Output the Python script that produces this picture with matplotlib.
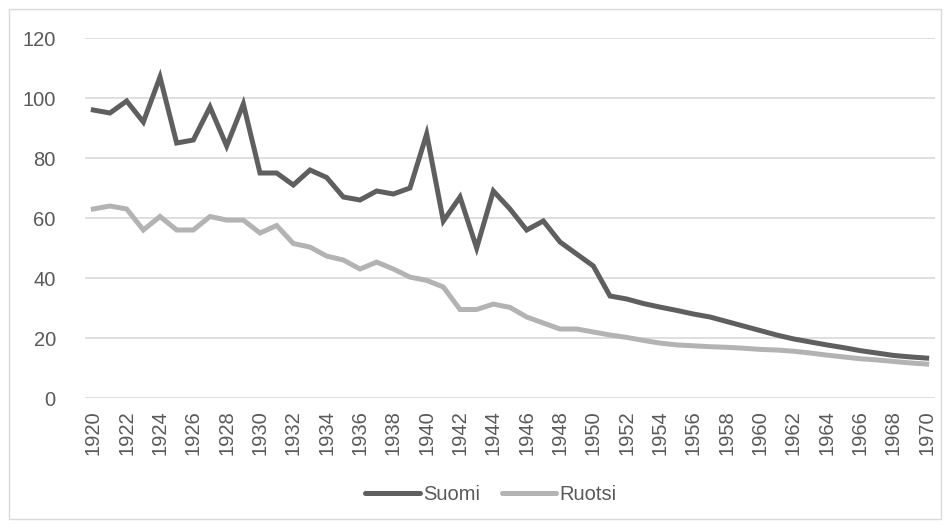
import matplotlib
matplotlib.use('Agg')
import matplotlib.pyplot as plt
from matplotlib.patches import Rectangle

years = list(range(1920, 1971))

suomi = [96, 95, 99, 92, 107, 85, 86, 97, 84, 98,
         75, 75, 71, 76, 73.5, 67, 66, 69, 68, 70,
         88, 59, 67, 50, 69, 63, 56, 59, 52, 48,
         44, 34, 33, 31.5, 30.3, 29.2, 28, 27, 25.5, 24,
         22.5, 21, 19.7, 18.7, 17.7, 16.8, 15.8, 15, 14.2, 13.7,
         13.3]

ruotsi = [63, 64, 63, 56, 60.5, 56, 56, 60.5, 59.3, 59.3,
          55, 57.5, 51.5, 50.3, 47.3, 46, 43, 45.3, 43, 40.3,
          39.2, 37, 29.5, 29.5, 31.3, 30.2, 27, 25, 23, 23,
          22, 21, 20.2, 19.2, 18.3, 17.7, 17.4, 17.1, 16.9, 16.6,
          16.2, 16, 15.6, 15, 14.3, 13.7, 13.1, 12.7, 12.2, 11.7,
          11.3]

y_ticks = [0, 20, 40, 60, 80, 100, 120]

DARK = '#5f5f5f'
LIGHT = '#b3b3b3'
TXT = '#595959'
GRID = '#d9d9d9'
FS = 14.5

plt.rcParams['font.family'] = ['Liberation Sans', 'DejaVu Sans']

fig = plt.figure(figsize=(9.5, 5.28), dpi=100)
fig.patch.set_facecolor('white')
# chart border
fig.add_artist(Rectangle((9 / 950, 9 / 528), 932 / 950, 510 / 528,
                         transform=fig.transFigure, fill=False,
                         edgecolor='#d9d9d9', linewidth=1))

ax = fig.add_axes([85 / 950, 130 / 528, 850 / 950, 360 / 528])
ax.plot(years, suomi, color=DARK, linewidth=3.6, label='Suomi',
        solid_joinstyle='miter', zorder=3)
ax.plot(years, ruotsi, color=LIGHT, linewidth=3.6, label='Ruotsi',
        solid_joinstyle='miter', zorder=2)

ax.set_xlim(1919.5, 1970.5)
ax.set_ylim(0, 120)
ax.set_yticks(y_ticks)
ax.set_xticks(years[::2])
ax.set_xticklabels([str(y) for y in years[::2]], rotation=90)
ax.tick_params(axis='both', length=0, labelsize=FS, labelcolor=TXT)
ax.tick_params(axis='y', pad=21)
ax.tick_params(axis='x', pad=9)
ax.grid(axis='y', color=GRID, linewidth=1.2)
ax.set_axisbelow(True)
for s in ax.spines.values():
    s.set_visible(False)

leg = fig.legend(*ax.get_legend_handles_labels(), loc='center',
                 bbox_to_anchor=(491 / 950, 1 - 495 / 528), ncol=2,
                 frameon=False, fontsize=FS, labelcolor=TXT,
                 handlelength=2.7, handletextpad=0.15, columnspacing=1.1)
for h in leg.get_lines():
    h.set_solid_capstyle('round')

plt.savefig('out.png', dpi=100)
